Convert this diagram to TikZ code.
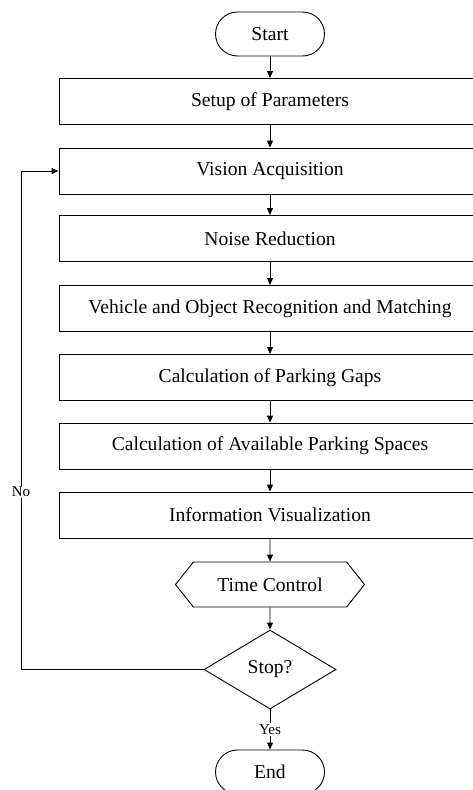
\documentclass[tikz,border=0pt]{standalone}
\usepackage{fontspec}
\setmainfont{Liberation Serif}
\usetikzlibrary{arrows.meta,shapes.geometric,shapes.symbols}

\tikzset{
  box/.style={draw,line width=0.9pt,minimum width=422pt,minimum height=46pt,
    font=\fontsize{19.6}{23}\selectfont},
  term/.style={draw,line width=0.9pt,rounded corners=22pt,minimum width=109pt,
    minimum height=44pt,font=\fontsize{19.6}{23}\selectfont},
  prep/.style={draw,line width=0.9pt,signal,signal to=west and east,
    signal pointer angle=103,minimum width=189pt,minimum height=45pt,
    font=\fontsize{19.6}{23}\selectfont},
  decide/.style={draw,line width=0.9pt,diamond,minimum width=132pt,
    minimum height=79pt,inner sep=0pt,font=\fontsize{19.6}{23}\selectfont},
  flow/.style={line width=0.9pt,-{Triangle[length=7pt,width=6pt]}},
  lbl/.style={fill=white,inner sep=1.5pt,font=\fontsize{15}{17}\selectfont}
}

\begin{document}
\begin{tikzpicture}[x=1pt,y=-1pt]
  \useasboundingbox (0,0) rectangle (472,790);
  % terminals and process steps
  \node[term] (start) at (270,34) {Start};
  \node[box] (setup) at (270,101.5) {Setup of Parameters};
  \node[box] (vision) at (270,171) {Vision Acquisition};
  \node[box] (noise) at (270,238.5) {Noise Reduction};
  \node[box] (recog) at (270,308.5) {Vehicle and Object Recognition and Matching};
  \node[box] (gaps) at (270,377.5) {Calculation of Parking Gaps};
  \node[box] (spaces) at (270,446) {Calculation of Available Parking Spaces};
  \node[box] (visual) at (270,515) {Information Visualization};
  \node[prep] (timer) at (270,584.5) {Time Control};
  \node[decide] (stop) at (270,669.5) {Stop?};
  \node[term] (end) at (270,772) {End};
  \coordinate (loop) at (21,171);
  % main flow
  \draw[flow] (start) -- (setup);
  \draw[flow] (setup) -- (vision);
  \draw[flow] (vision) -- (noise);
  \draw[flow] (noise) -- (recog);
  \draw[flow] (recog) -- (gaps);
  \draw[flow] (gaps) -- (spaces);
  \draw[flow] (spaces) -- (visual);
  \draw[flow] (visual) -- (timer);
  \draw[flow] (timer) -- (stop);
  \draw[flow] (stop) -- node[lbl] (yes) {Yes} (end);
  % loop back
  \draw[flow] (stop.west) -| (loop) -- (vision.west);
  \node[lbl] (no) at (21,492) {No};
\end{tikzpicture}
\end{document}
